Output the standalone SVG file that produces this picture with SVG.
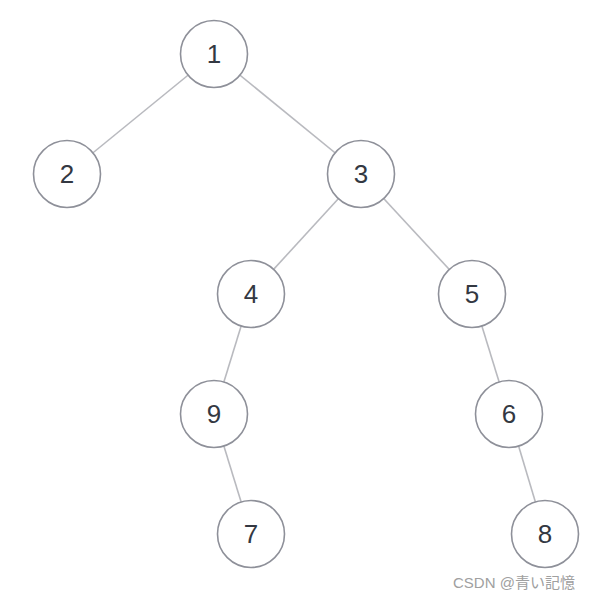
<svg xmlns="http://www.w3.org/2000/svg" width="592" height="600" viewBox="0 0 592 600">
<style>
.n circle{fill:#fff;stroke:#8e9099;stroke-width:1.6}
.n text{font-family:"Liberation Sans",Arial,sans-serif;font-size:26px;fill:#333842;text-anchor:middle;dominant-baseline:central}
#edges line{stroke:#b9babf;stroke-width:1.6}
.wm{font-family:"Liberation Sans","Noto Sans CJK JP",sans-serif;font-size:15px;fill:#a0a0a0}
</style>
<rect width="592" height="600" fill="#fff"/>
<g id="edges">
<line x1="214" y1="54" x2="67" y2="174"/>
<line x1="214" y1="54" x2="361" y2="174"/>
<line x1="361" y1="174" x2="251" y2="294"/>
<line x1="361" y1="174" x2="472" y2="294"/>
<line x1="251" y1="294" x2="214" y2="414"/>
<line x1="472" y1="294" x2="509" y2="414"/>
<line x1="214" y1="414" x2="251" y2="534"/>
<line x1="509" y1="414" x2="545" y2="534"/>
</g>
<g id="n1" class="n"><circle cx="214" cy="54" r="33.5"/><text x="214" y="54">1</text></g>
<g id="n2" class="n"><circle cx="67" cy="174" r="33.5"/><text x="67" y="174">2</text></g>
<g id="n3" class="n"><circle cx="361" cy="174" r="33.5"/><text x="361" y="174">3</text></g>
<g id="n4" class="n"><circle cx="251" cy="294" r="33.5"/><text x="251" y="294">4</text></g>
<g id="n5" class="n"><circle cx="472" cy="294" r="33.5"/><text x="472" y="294">5</text></g>
<g id="n9" class="n"><circle cx="214" cy="414" r="33.5"/><text x="214" y="414">9</text></g>
<g id="n6" class="n"><circle cx="509" cy="414" r="33.5"/><text x="509" y="414">6</text></g>
<g id="n7" class="n"><circle cx="251" cy="534" r="33.5"/><text x="251" y="534">7</text></g>
<g id="n8" class="n"><circle cx="545" cy="534" r="33.5"/><text x="545" y="534">8</text></g>
<text class="wm" x="453" y="588">CSDN @青い記憶</text>
</svg>
